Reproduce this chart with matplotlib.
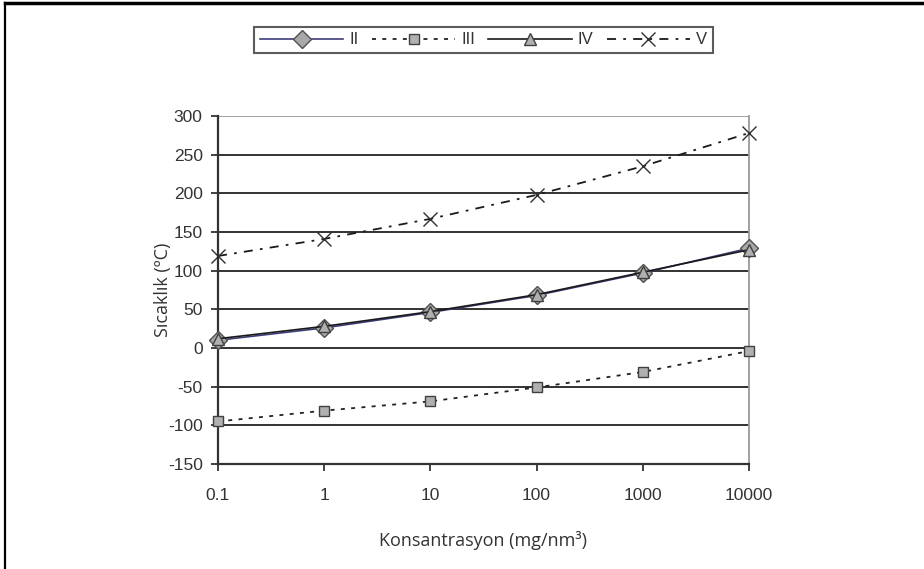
import matplotlib
matplotlib.use("Agg")
import matplotlib.pyplot as plt
from matplotlib.lines import Line2D

concentrations = [0.1, 1, 10, 100, 1000, 10000]
x_tick_labels = ["0.1", "1", "10", "100", "1000", "10000"]
series_II = [10, 26, 46, 68, 97, 129]
series_III = [-95, -81, -69, -51, -31, -4]
series_IV = [12, 28, 47, 69, 98, 127]
series_V = [119, 141, 167, 198, 235, 278]
y_ticks = [-150, -100, -50, 0, 50, 100, 150, 200, 250, 300]

plt.rcParams['font.family'] = ['Liberation Sans', 'DejaVu Sans']

fig = plt.figure(figsize=(9.24, 5.69), dpi=100)
ax = fig.add_axes([218/924, 1-464/569, (749-218)/924, (464-116)/569])

# gridlines
for yv in y_ticks:
    ax.axhline(yv, color='#222222' if yv != 300 else '#9a9a9a', lw=1.3, zorder=1)

ax.plot(concentrations, series_II, color='#3c3c7c', lw=1.2, marker='D', ms=9,
        mfc='#a8a8a8', mec='#505050', mew=1.0, zorder=3, label='II', clip_on=False)
ax.plot(concentrations, series_III, color='#222222', lw=1.3, ls=(0, (2.2, 3.5)), marker='s', ms=7,
        mfc='#b0b0b0', mec='#404040', mew=1.0, zorder=3, label='III', clip_on=False)
ax.plot(concentrations, series_IV, color='#1a1a1a', lw=1.2, marker='^', ms=8,
        mfc='#b0b0b0', mec='#404040', mew=1.0, zorder=4, label='IV', clip_on=False)
ax.plot(concentrations, series_V, color='#1a1a1a', lw=1.3, ls=(0, (5, 4, 1.5, 4)), marker='x', ms=10,
        mec='#303030', mew=1.0, zorder=3, label='V', clip_on=False)

ax.set_xscale('log')
ax.set_xlim(0.1, 10000)
ax.set_ylim(-150, 300)
ax.set_xticks(concentrations)
ax.set_xticklabels(x_tick_labels)
ax.minorticks_off()
ax.set_yticks(y_ticks)
ax.set_yticklabels([str(v) for v in y_ticks])
ax.tick_params(axis='both', direction='out', length=5, width=1.3, color='#333333',
               labelsize=12.5, labelcolor='#333333')
ax.tick_params(axis='x', pad=12)
ax.tick_params(axis='y', pad=6)

ax.spines['left'].set_color('#333333')
ax.spines['left'].set_linewidth(1.6)
ax.spines['bottom'].set_color('#333333')
ax.spines['bottom'].set_linewidth(1.6)
ax.spines['top'].set_visible(False)
ax.spines['right'].set_color('#9a9a9a')
ax.spines['right'].set_linewidth(1.3)
ax.set_facecolor('white')

fig.text(483/924, 1-540/569, "Konsantrasyon (mg/nm³)", ha='center', va='center',
         fontsize=13, color='#333333', family=['Open Sans', 'DejaVu Sans'])
fig.text(163/924, 1-290/569, "Sıcaklık (ºC)", ha='center', va='center', rotation=90,
         fontsize=13, color='#333333', family=['Open Sans', 'DejaVu Sans'])

leg = fig.legend(loc='center', bbox_to_anchor=((250+717)/2/924, 1-40/569), ncol=4,
                 handlelength=5.0, handletextpad=0.35, columnspacing=0.8,
                 fontsize=12, frameon=True, fancybox=False, borderpad=0.35,
                 edgecolor='#333333')
leg.get_frame().set_linewidth(1.5)
for t in leg.get_texts():
    t.set_color('#333333')

# outer frame (top and left edges)
fig.add_artist(Line2D([5/924, 1], [1-3/569, 1-3/569], transform=fig.transFigure,
                      color='black', lw=2.5))
fig.add_artist(Line2D([5/924, 5/924], [0, 1-3/569], transform=fig.transFigure,
                      color='black', lw=1.6))

fig.savefig('out.png', dpi=100, facecolor='white')
